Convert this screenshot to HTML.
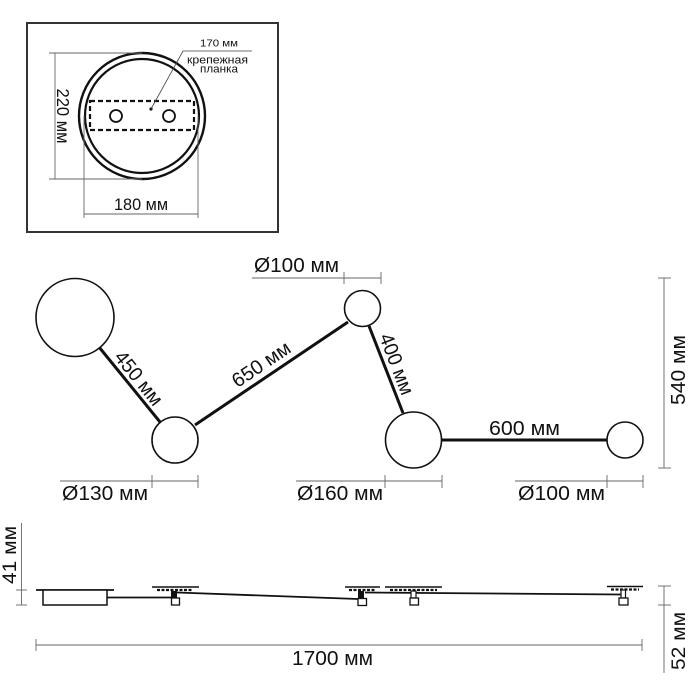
<!DOCTYPE html>
<html><head><meta charset="utf-8"><style>
html,body{margin:0;padding:0;background:#fff;}
svg{display:block;}
text{font-family:"Liberation Sans",sans-serif;fill:#111;}
</style></head><body>
<svg width="700" height="700" viewBox="0 0 700 700" xmlns="http://www.w3.org/2000/svg">
<rect width="700" height="700" fill="#fff"/>
<!-- top box -->
<rect x="27" y="23" width="251" height="209" fill="none" stroke="#333" stroke-width="2"/>
<circle cx="142" cy="116" r="63" fill="none" stroke="#111" stroke-width="2.4"/>
<circle cx="142" cy="116" r="57" fill="none" stroke="#111" stroke-width="2.2"/>
<rect x="90" y="101" width="104" height="29" fill="none" stroke="#111" stroke-width="2.2" stroke-dasharray="5,3"/>
<circle cx="116" cy="116" r="6" fill="none" stroke="#111" stroke-width="1.8"/>
<circle cx="169" cy="116" r="6" fill="none" stroke="#111" stroke-width="1.8"/>
<circle cx="151" cy="109" r="1.6" fill="#111"/>
<polyline points="151,109 183,51 252,51" fill="none" stroke="#444" stroke-width="0.8"/>
<text x="200" y="46.5" font-size="10.5" textLength="38" lengthAdjust="spacingAndGlyphs">170 мм</text>
<text x="187" y="63.5" font-size="11" textLength="61" lengthAdjust="spacingAndGlyphs">крепежная</text>
<text x="200" y="72.5" font-size="11" textLength="38" lengthAdjust="spacingAndGlyphs">планка</text>
<!-- 220 dim -->
<g stroke="#666" stroke-width="0.9" fill="none">
<line x1="55" y1="53" x2="55" y2="179"/>
<line x1="49" y1="53" x2="142" y2="53"/>
<line x1="49" y1="179" x2="142" y2="179"/>
<line x1="84" y1="116" x2="84" y2="218"/>
<line x1="198" y1="116" x2="198" y2="218"/>
<line x1="84" y1="214" x2="198" y2="214"/>
</g>
<text transform="translate(57,116) rotate(90)" text-anchor="middle" font-size="17.5" textLength="55" lengthAdjust="spacingAndGlyphs">220 мм</text>
<text x="114" y="210" font-size="17" textLength="54" lengthAdjust="spacingAndGlyphs">180 мм</text>

<!-- middle: arms -->
<g stroke="#111" stroke-width="3" stroke-linecap="butt">
<line x1="99" y1="347" x2="160" y2="422"/>
<line x1="195" y1="425" x2="348" y2="322"/>
<line x1="369" y1="326" x2="403" y2="413"/>
<line x1="442" y1="440" x2="607" y2="440"/>
</g>
<g fill="#fff" stroke="#111" stroke-width="1.6">
<circle cx="75" cy="317.5" r="39"/>
<circle cx="175" cy="440" r="23"/>
<circle cx="362.5" cy="308.5" r="18"/>
<circle cx="413.5" cy="440" r="28"/>
<circle cx="625" cy="440" r="18"/>
</g>
<text transform="translate(139,378) rotate(51)" text-anchor="middle" font-size="20" dy="7" textLength="64" lengthAdjust="spacingAndGlyphs">450 мм</text>
<text transform="translate(261,364) rotate(-34)" text-anchor="middle" font-size="20" dy="7" textLength="66" lengthAdjust="spacingAndGlyphs">650 мм</text>
<text transform="translate(397,364) rotate(69)" text-anchor="middle" font-size="20" dy="7" textLength="64" lengthAdjust="spacingAndGlyphs">400 мм</text>
<text x="489" y="435" font-size="20" textLength="71" lengthAdjust="spacingAndGlyphs">600 мм</text>

<!-- diameter dims -->
<g stroke="#666" stroke-width="0.9" fill="none">
<line x1="252" y1="278" x2="381" y2="278"/>
<line x1="344" y1="272" x2="344" y2="284"/>
<line x1="381" y1="272" x2="381" y2="284"/>
<line x1="60" y1="481" x2="198" y2="481"/>
<line x1="152" y1="475" x2="152" y2="488"/>
<line x1="198" y1="475" x2="198" y2="488"/>
<line x1="296" y1="481" x2="442" y2="481"/>
<line x1="385" y1="475" x2="385" y2="488"/>
<line x1="442" y1="475" x2="442" y2="488"/>
<line x1="515" y1="481" x2="643" y2="481"/>
<line x1="607" y1="475" x2="607" y2="488"/>
<line x1="643" y1="475" x2="643" y2="488"/>
<line x1="664" y1="278" x2="664" y2="468"/>
<line x1="658" y1="278" x2="671" y2="278"/>
<line x1="658" y1="468" x2="671" y2="468"/>
</g>
<text x="254" y="272" font-size="20" textLength="85" lengthAdjust="spacingAndGlyphs">Ø100 мм</text>
<text x="62" y="500" font-size="20" textLength="86" lengthAdjust="spacingAndGlyphs">Ø130 мм</text>
<text x="297" y="500" font-size="20" textLength="86" lengthAdjust="spacingAndGlyphs">Ø160 мм</text>
<text x="518" y="500" font-size="20" textLength="87" lengthAdjust="spacingAndGlyphs">Ø100 мм</text>
<text transform="translate(685,370) rotate(-90)" text-anchor="middle" font-size="20" textLength="70" lengthAdjust="spacingAndGlyphs">540 мм</text>

<!-- side view -->
<g stroke="#666" stroke-width="0.9" fill="none">
<line x1="21.5" y1="523" x2="21.5" y2="605"/>
<line x1="16" y1="590" x2="27" y2="590"/>
<line x1="16" y1="605" x2="27" y2="605"/>
<line x1="36" y1="645" x2="642" y2="645"/>
<line x1="36" y1="639" x2="36" y2="651"/>
<line x1="642" y1="639" x2="642" y2="651"/>
<line x1="664" y1="586" x2="664" y2="673"/>
<line x1="658" y1="586" x2="671" y2="586"/>
<line x1="658" y1="605" x2="671" y2="605"/>
</g>
<text transform="translate(16,555) rotate(-90)" text-anchor="middle" font-size="19" textLength="58" lengthAdjust="spacingAndGlyphs">41 мм</text>
<text transform="translate(685,641) rotate(-90)" text-anchor="middle" font-size="19" textLength="58" lengthAdjust="spacingAndGlyphs">52 мм</text>
<text x="292" y="665" font-size="20" textLength="81" lengthAdjust="spacingAndGlyphs">1700 мм</text>

<!-- base -->
<line x1="36" y1="590" x2="114" y2="590" stroke="#111" stroke-width="1.8"/>
<rect x="43" y="590" width="64" height="15" fill="#fff" stroke="#111" stroke-width="1.5"/>
<g stroke="#111" stroke-width="1.8" fill="none">
<line x1="107" y1="597.5" x2="171" y2="597.5"/>
<line x1="177" y1="592.5" x2="358" y2="599"/>
<line x1="365" y1="592.5" x2="621" y2="594.5"/>
</g>
<!-- bulbs side -->
<g stroke="#111" fill="none">
<line x1="152" y1="587" x2="199" y2="587" stroke-width="1.6"/>
<line x1="157" y1="590" x2="193" y2="590" stroke-width="2.2" stroke-dasharray="3,1.5"/>
<line x1="345" y1="587" x2="380" y2="587" stroke-width="1.6"/>
<line x1="349" y1="590" x2="376" y2="590" stroke-width="2.2" stroke-dasharray="3,1.5"/>
<line x1="385" y1="587" x2="442" y2="587" stroke-width="1.6"/>
<line x1="390" y1="590" x2="437" y2="590" stroke-width="2.2" stroke-dasharray="3,1.5"/>
<line x1="607" y1="586.5" x2="643" y2="586.5" stroke-width="1.6"/>
<line x1="611" y1="589.5" x2="639" y2="589.5" stroke-width="2.2" stroke-dasharray="3,1.5"/>
</g>
<rect x="171" y="591" width="6" height="7" fill="#111"/>
<rect x="171.5" y="598" width="8" height="7" fill="#fff" stroke="#111" stroke-width="1.3"/>
<rect x="358" y="591" width="6" height="8" fill="#111"/>
<rect x="358" y="598.5" width="8.5" height="7" fill="#fff" stroke="#111" stroke-width="1.3"/>
<rect x="411" y="591" width="5" height="7" fill="#fff" stroke="#111" stroke-width="1.2"/>
<rect x="410" y="598" width="8.5" height="7" fill="#fff" stroke="#111" stroke-width="1.3"/>
<rect x="621" y="590" width="4.5" height="8" fill="#fff" stroke="#111" stroke-width="1.2"/>
<rect x="619" y="598" width="9" height="7" fill="#fff" stroke="#111" stroke-width="1.3"/>
</svg>
</body></html>
